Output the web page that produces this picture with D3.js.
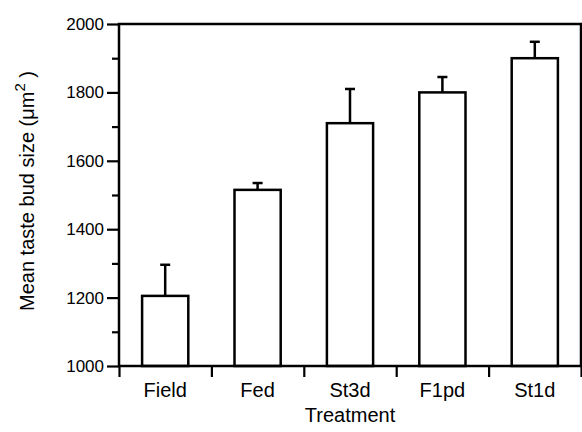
<!DOCTYPE html>
<html>
<head>
<meta charset="utf-8">
<script src="https://cdn.jsdelivr.net/npm/d3@7"></script>
<style>
  body { margin: 0; background: #fff; }
  text { font-family: "Liberation Sans", Arial, sans-serif; fill: #000; }
</style>
</head>
<body>
<div id="main"></div>
<script>
const treatments = ['Field', 'Fed', 'St3d', 'F1pd', 'St1d'];
const meanSize = [1205, 1515, 1710, 1800, 1900];
const upperErr = [1296, 1535, 1810, 1845, 1948];
const majorTicks = [1000, 1200, 1400, 1600, 1800, 2000];
const minorTicks = [1100, 1300, 1500, 1700, 1900];

const width = 582, height = 432;
const margin = { top: 24, right: 1, bottom: 66, left: 119 };

const svg = d3.select('#main').append('svg')
  .attr('width', width)
  .attr('height', height);

const x = d3.scaleBand()
  .domain(treatments)
  .range([margin.left, width - margin.right])
  .paddingInner(0.5)
  .paddingOuter(0.25);

const y = d3.scaleLinear()
  .domain([1000, 2000])
  .range([height - margin.bottom, margin.top]);

// boundaries between categories for x ticks
const xb = d3.scaleLinear()
  .domain([0, treatments.length])
  .range([margin.left, width - margin.right]);

// bars
svg.append('g').selectAll('rect')
  .data(treatments)
  .enter()
  .append('rect')
  .attr('x', d => x(d))
  .attr('y', (d, i) => y(meanSize[i]))
  .attr('width', x.bandwidth())
  .attr('height', (d, i) => y(1000) - y(meanSize[i]))
  .attr('fill', '#fff')
  .attr('stroke', '#000')
  .attr('stroke-width', 2.5);

// error bars (upper only)
const err = svg.append('g').attr('stroke', '#000').attr('stroke-width', 2.5);
treatments.forEach((d, i) => {
  const cx = x(d) + x.bandwidth() / 2;
  err.append('line')
    .attr('x1', cx).attr('x2', cx)
    .attr('y1', y(meanSize[i])).attr('y2', y(upperErr[i]));
  err.append('line')
    .attr('x1', cx - 5).attr('x2', cx + 5)
    .attr('y1', y(upperErr[i])).attr('y2', y(upperErr[i]));
});

// frame
svg.append('rect')
  .attr('x', margin.left)
  .attr('y', margin.top)
  .attr('width', width - margin.right - margin.left)
  .attr('height', y(1000) - margin.top)
  .attr('fill', 'none')
  .attr('stroke', '#000')
  .attr('stroke-width', 2.5);

// y axis
const yAxis = svg.append('g')
  .attr('transform', `translate(${margin.left},0)`)
  .call(d3.axisLeft(y).tickValues(majorTicks).tickSize(12).tickPadding(3).tickFormat(d3.format('d')));
yAxis.select('.domain').remove();
yAxis.selectAll('.tick line').attr('stroke-width', 2.2);
yAxis.selectAll('.tick text').style('font-size', '17px');

const yMinor = svg.append('g')
  .attr('transform', `translate(${margin.left},0)`)
  .call(d3.axisLeft(y).tickValues(minorTicks).tickSize(7).tickFormat(''));
yMinor.select('.domain').remove();
yMinor.selectAll('.tick line').attr('stroke-width', 2.2);

// x axis ticks at category boundaries
const xTicks = svg.append('g')
  .attr('transform', `translate(0,${y(1000)})`)
  .call(d3.axisBottom(xb).tickValues(d3.range(treatments.length + 1)).tickSize(11).tickFormat(''));
xTicks.select('.domain').remove();
xTicks.selectAll('.tick line').attr('stroke-width', 2.2);

// x labels
const xLabels = svg.append('g')
  .attr('transform', `translate(0,${y(1000)})`)
  .call(d3.axisBottom(x).tickSize(0).tickPadding(17));
xLabels.select('.domain').remove();
xLabels.selectAll('.tick text').style('font-size', '20px');

// axis titles
svg.append('text')
  .attr('x', (margin.left + width - margin.right) / 2)
  .attr('y', 422)
  .attr('text-anchor', 'middle')
  .style('font-size', '20px')
  .text('Treatment');

const yTitle = svg.append('text')
  .attr('transform', 'translate(34,191) rotate(-90)')
  .attr('text-anchor', 'middle')
  .style('font-size', '20px');
yTitle.append('tspan').text('Mean taste bud size (\u03BCm');
yTitle.append('tspan').attr('dy', -9).style('font-size', '15px').text('2');
yTitle.append('tspan').attr('dy', 9).text(' )');
</script>
</body>
</html>
